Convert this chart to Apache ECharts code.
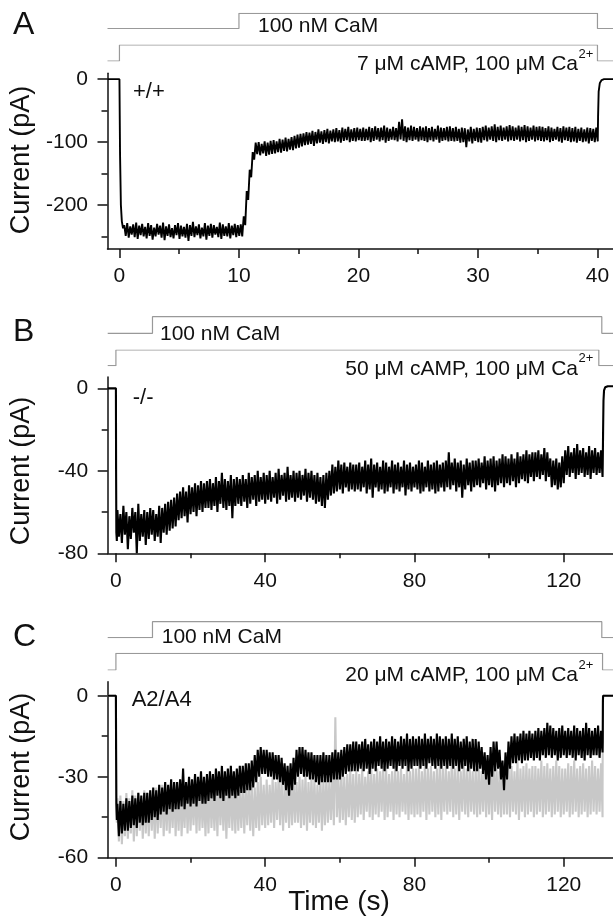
<!DOCTYPE html>
<html><head><meta charset="utf-8">
<script src="https://cdn.jsdelivr.net/npm/echarts@6/dist/echarts.min.js"></script>
<style>html,body{margin:0;padding:0;background:#fff}#c{width:613px;height:921px}</style>
</head><body><div id="c"></div>
<script>
// ---------------- DATA ----------------
// Panel A (+/+) : time (s), current (pA)
const aXTicks = [0, 10, 20, 30, 40];
const aXMinor = [5, 15, 25, 35];
const aYTicks = [-200, -100, 0];
const aYMinor = [-250, -150, -50];
const aCamOnOff = [10, 40];
const aCampOnOff = [0, 40];
const aLead = [[-1, 0], [0, 0], [0.05, -120], [0.12, -200], [0.2, -226], [0.3, -237]];
const aT0 = 0.4, aDt = 0.25;
const aHi = [-232,-229,-234,-231,-228,-233,-230,-235,-229,-232,
 -236,-230,-233,-228,-234,-231,-237,-232,-229,-233,
 -235,-230,-232,-227,-234,-231,-236,-229,-233,-230,
 -232,-235,-228,-231,-234,-229,-233,-230,-232,-231,
 -218,-178,-144,-116,-101,-100,-103,-99,-101,-98,
 -97,-99,-95,-96,-93,-95,-92,-90,-88,-87,
 -86,-84,-85,-82,-84,-80,-83,-81,-79,-82,
 -80,-78,-81,-77,-79,-76,-80,-78,-77,-79,
 -77,-79,-76,-78,-75,-78,-77,-74,-77,-79,
 -76,-78,-68,-64,-75,-77,-74,-76,-78,-75,
 -77,-75,-78,-76,-79,-74,-77,-78,-76,-75,
 -78,-76,-79,-77,-78,-80,-76,-79,-77,-78,
 -76,-74,-77,-75,-72,-76,-74,-77,-75,-73,
 -75,-77,-74,-76,-73,-75,-77,-74,-76,-75,
 -76,-78,-75,-77,-79,-76,-78,-75,-77,-76,
 -78,-76,-79,-77,-80,-77,-78,-79,-77];
const aLo = [-249,-252,-247,-251,-254,-248,-250,-253,-249,-255,
 -250,-247,-252,-256,-249,-251,-253,-248,-254,-250,
 -252,-257,-249,-251,-248,-253,-250,-255,-249,-252,
 -247,-251,-254,-249,-250,-253,-248,-251,-249,-250,
 -232,-192,-156,-128,-119,-121,-118,-122,-120,-119,
 -118,-116,-117,-114,-115,-112,-113,-110,-109,-107,
 -105,-104,-103,-106,-102,-101,-103,-100,-102,-99,
 -100,-99,-101,-98,-97,-100,-98,-99,-97,-98,
 -98,-97,-100,-98,-96,-99,-97,-101,-98,-96,
 -97,-99,-96,-98,-100,-97,-98,-96,-99,-97,
 -98,-100,-97,-99,-96,-101,-98,-97,-99,-98,
 -99,-98,-101,-100,-108,-99,-102,-98,-100,-101,
 -97,-99,-96,-98,-100,-97,-98,-96,-99,-97,
 -98,-96,-99,-97,-100,-98,-96,-99,-97,-98,
 -99,-97,-100,-98,-96,-99,-101,-97,-98,-100,
 -99,-101,-98,-100,-99,-102,-98,-100,-99];
const aTail = [[40.05, -60], [40.1, -20], [40.2, -6], [40.35, -1.5], [40.55, 0], [41.3, 0]];

// Panel B (-/-)
const bXTicks = [0, 40, 80, 120];
const bXMinor = [20, 60, 100];
const bYTicks = [-80, -40, 0];
const bYMinor = [-60, -20];
const bCamOnOff = [9.8, 130.2];
const bCampOnOff = [0, 129.4];
const bLead = [[-2.2, 0], [0, 0], [0.05, -40], [0.12, -70], [0.25, -74]];
const bT0 = 0.4, bDt = 0.8;
const bHi = [-59,-61,-57,-60,-62,-58,-60,-56,-61,-59,
 -60,-58,-59,-61,-57,-58,-56,-55,-54,-53,
 -51,-50,-48,-50,-47,-48,-46,-47,-45,-46,
 -45,-44,-46,-43,-45,-41,-44,-45,-42,-44,
 -43,-44,-42,-44,-41,-43,-42,-40,-43,-41,
 -42,-40,-43,-41,-39,-42,-41,-38,-42,-40,
 -41,-40,-42,-39,-41,-40,-42,-41,-43,-42,
 -41,-40,-37,-38,-35,-37,-36,-38,-36,-37,
 -37,-36,-38,-35,-37,-34,-37,-36,-38,-35,
 -36,-38,-35,-37,-36,-38,-35,-37,-36,-38,
 -37,-35,-36,-38,-35,-37,-36,-35,-37,-36,
 -35,-31,-36,-34,-36,-35,-37,-34,-36,-35,
 -35,-34,-36,-33,-35,-34,-33,-35,-34,-32,
 -33,-34,-32,-34,-31,-33,-32,-30,-32,-31,
 -31,-30,-32,-29,-31,-34,-35,-34,-36,-33,
 -30,-28,-31,-29,-27,-30,-29,-31,-28,-30,
 -29,-31,-30];
const bLo = [-72,-75,-71,-78,-73,-70,-80,-74,-72,-76,
 -73,-71,-74,-72,-75,-70,-71,-69,-68,-67,
 -64,-63,-62,-65,-61,-60,-62,-59,-60,-58,
 -58,-59,-57,-60,-56,-58,-59,-57,-63,-57,
 -56,-57,-55,-58,-56,-54,-57,-55,-54,-56,
 -54,-55,-53,-56,-54,-52,-55,-54,-53,-55,
 -53,-54,-52,-55,-53,-54,-56,-55,-57,-58,
 -54,-52,-51,-50,-49,-51,-48,-50,-49,-50,
 -49,-50,-48,-51,-49,-53,-48,-50,-49,-51,
 -50,-48,-51,-49,-50,-48,-52,-49,-50,-48,
 -49,-51,-50,-48,-50,-49,-51,-50,-48,-50,
 -48,-49,-47,-50,-48,-53,-49,-47,-50,-48,
 -47,-48,-46,-49,-47,-48,-50,-47,-46,-48,
 -46,-47,-45,-48,-46,-44,-45,-46,-43,-45,
 -43,-44,-42,-45,-43,-48,-47,-49,-48,-46,
 -42,-43,-41,-44,-42,-41,-43,-42,-44,-41,
 -42,-41,-43];
const bTail = [[130.45, -37], [130.55, -20], [130.65, -6], [130.8, -1], [131.1, 0.5], [131.8, 1], [133.2, 1]];

// Panel C (A2/A4): black = CaM trace, grey = control trace
const cXTicks = [0, 40, 80, 120];
const cXMinor = [20, 60, 100];
const cYTicks = [-60, -30, 0];
const cYMinor = [-45, -15];
const cCamOnOff = [9.8, 130.2];
const cCampOnOff = [0, 130.4];
const cT0 = 0.4, cDt = 0.8;
const cLead = [[-2.2, 0], [0, 0], [0.05, -20], [0.12, -40], [0.25, -46]];
const cHi = [-40,-39,-40,-38,-39,-37,-38,-36,-37,-36,
 -36,-35,-34,-35,-33,-34,-32,-33,-31,-32,
 -32,-31,-27,-32,-30,-31,-29,-30,-28,-30,
 -29,-28,-29,-27,-28,-26,-28,-27,-26,-28,
 -27,-26,-26,-25,-25,-24,-22,-20,-19,-20,
 -20,-21,-21,-22,-22,-23,-25,-26,-25,-23,
 -20,-19,-19,-20,-21,-21,-22,-22,-22,-21,
 -22,-22,-21,-20,-21,-20,-19,-18,-18,-17,
 -17,-18,-17,-16,-18,-17,-16,-17,-15,-17,
 -16,-17,-15,-16,-17,-15,-16,-14,-16,-15,
 -16,-15,-16,-14,-16,-15,-16,-14,-15,-16,
 -15,-16,-14,-16,-15,-17,-16,-15,-17,-16,
 -16,-17,-19,-21,-22,-19,-17,-17,-20,-24,
 -21,-17,-15,-14,-15,-14,-13,-14,-13,-14,
 -13,-12,-13,-12,-10,-11,-12,-13,-12,-11,
 -13,-12,-13,-11,-12,-13,-12,-10,-12,-13,
 -12,-11,-13];
const cLo = [-52,-51,-50,-50,-49,-48,-49,-47,-48,-47,
 -47,-46,-45,-46,-44,-43,-44,-42,-43,-42,
 -42,-41,-42,-40,-41,-40,-41,-39,-40,-40,
 -39,-38,-39,-37,-38,-39,-37,-38,-37,-38,
 -37,-36,-36,-35,-35,-34,-32,-30,-29,-29,
 -30,-30,-31,-31,-32,-33,-35,-37,-35,-33,
 -30,-29,-30,-30,-31,-31,-32,-33,-32,-32,
 -32,-32,-31,-31,-31,-30,-29,-28,-28,-28,
 -28,-27,-28,-27,-29,-27,-28,-26,-27,-28,
 -27,-26,-27,-28,-26,-27,-26,-28,-27,-26,
 -26,-27,-26,-27,-25,-26,-27,-26,-27,-26,
 -27,-26,-27,-26,-28,-27,-26,-28,-27,-28,
 -28,-27,-29,-31,-33,-30,-28,-27,-31,-35,
 -31,-27,-25,-25,-24,-25,-24,-24,-23,-24,
 -23,-24,-22,-23,-22,-23,-22,-24,-23,-22,
 -23,-22,-23,-24,-22,-23,-24,-22,-23,-22,
 -22,-23,-21];
const cTail = [[130.45, -17], [130.5, -2], [130.55, 0], [133.2, 0]];
const cGreyLead = [[-2.2, 0], [0, 0], [0.05, -25], [0.12, -42], [0.25, -47]];
const cGreyHi = [-38,-37,-39,-36,-38,-35,-37,-36,-38,-35,
 -36,-35,-37,-34,-36,-33,-35,-34,-36,-33,
 -35,-33,-36,-32,-34,-35,-33,-31,-34,-35,
 -34,-32,-35,-33,-31,-34,-33,-35,-32,-34,
 -33,-35,-32,-34,-31,-33,-34,-32,-30,-33,
 -31,-33,-30,-32,-29,-31,-33,-30,-32,-31,
 -32,-30,-31,-29,-32,-30,-31,-33,-30,-31,
 -30,-31,-29,-8,-30,-28,-30,-29,-27,-29,
 -28,-29,-27,-30,-28,-26,-29,-27,-28,-26,
 -27,-29,-28,-26,-28,-27,-29,-26,-28,-27,
 -27,-26,-28,-25,-27,-26,-28,-27,-25,-27,
 -26,-28,-24,-27,-26,-28,-25,-27,-26,-28,
 -27,-26,-28,-25,-27,-26,-24,-27,-28,-26,
 -27,-25,-26,-28,-24,-27,-26,-25,-27,-26,
 -26,-27,-24,-26,-25,-27,-26,-24,-26,-27,
 -27,-25,-26,-24,-27,-26,-25,-27,-26,-24,
 -26,-27,-25];
const cGreyLo = [-54,-55,-52,-53,-51,-54,-52,-50,-53,-51,
 -52,-50,-53,-51,-49,-52,-50,-51,-49,-52,
 -50,-52,-49,-51,-50,-48,-51,-50,-49,-52,
 -51,-49,-50,-52,-48,-50,-53,-49,-50,-51,
 -50,-49,-51,-48,-50,-52,-49,-50,-48,-49,
 -48,-47,-49,-46,-48,-50,-47,-49,-48,-47,
 -47,-49,-48,-50,-47,-48,-49,-47,-50,-48,
 -47,-46,-48,-45,-47,-46,-48,-45,-46,-47,
 -45,-44,-46,-43,-45,-46,-44,-45,-43,-46,
 -45,-43,-46,-44,-45,-43,-44,-46,-44,-45,
 -44,-45,-43,-46,-44,-43,-45,-44,-46,-43,
 -44,-43,-45,-44,-46,-43,-44,-45,-43,-44,
 -45,-44,-43,-45,-44,-46,-43,-44,-45,-44,
 -44,-45,-43,-44,-46,-43,-45,-44,-43,-45,
 -44,-43,-45,-44,-43,-45,-44,-43,-45,-44,
 -43,-45,-44,-43,-45,-44,-43,-45,-44,-43,
 -44,-43,-45];
const cGreyTail = [[130.4, -36], [130.5, 0], [133.2, 0]];

// Text
const panelLetters = ['A', 'B', 'C'];
const genotypes = ['+/+', '-/-', 'A2/A4'];
const camLabel = '100 nM CaM';
const campLabels = ['7 μM cAMP, 100 μM Ca', '50 μM cAMP, 100 μM Ca', '20 μM cAMP, 100 μM Ca'];
const supLabel = '2+';
const yTitle = 'Current (pA)';
const xTitle = 'Time (s)';

// ---------------- LAYOUT ----------------
const FONT = '"Liberation Sans", Arial, Helvetica, sans-serif';
const INK = '#111';
const BARC = '#999';
const panels = [
  { left: 107.5, top: 73.3, width: 506.3, height: 175.7, xMin: -1, xMax: 41.3, yMin: -270, yMax: 9.3,
    xT: aXTicks, xM: aXMinor, yT: aYTicks, yM: aYMinor, cam: aCamOnOff, camp: aCampOnOff,
    camTop: 13.3, camH: 15.2, campTop: 45, campH: 16,
    letterY: 25.3, camLX: 258, camLY: 26.3, campLY: 64.2, genoX: 133, genoY: 91.7, yTitleY: 160,
    traces: [{ lead: aLead, t0: aT0, dt: aDt, hi: aHi, lo: aLo, tail: aTail, color: '#000', w: 1.9 }] },
  { left: 107.7, top: 377, width: 505.7, height: 176.3, xMin: -2.2, xMax: 133.2, yMin: -80, yMax: 5.5,
    xT: bXTicks, xM: bXMinor, yT: bYTicks, yM: bYMinor, cam: bCamOnOff, camp: bCampOnOff,
    camTop: 316.7, camH: 16.6, campTop: 350, campH: 15.7,
    letterY: 332.5, camLX: 160, camLY: 334.5, campLY: 368.8, genoX: 132.7, genoY: 397.5, yTitleY: 471,
    traces: [{ lead: bLead, t0: bT0, dt: bDt, hi: bHi, lo: bLo, tail: bTail, color: '#000', w: 2.1 }] },
  { left: 107.7, top: 681.7, width: 505.7, height: 176, xMin: -2.2, xMax: 133.2, yMin: -60, yMax: 5.2,
    xT: cXTicks, xM: cXMinor, yT: cYTicks, yM: cYMinor, cam: cCamOnOff, camp: cCampOnOff,
    camTop: 621.7, camH: 16, campTop: 653.3, campH: 16.7,
    letterY: 636.7, camLX: 161.7, camLY: 636.8, campLY: 675, genoX: 131.7, genoY: 699.5, yTitleY: 767,
    traces: [
      { lead: cGreyLead, t0: cT0, dt: cDt, hi: cGreyHi, lo: cGreyLo, tail: cGreyTail, color: '#c8c8c8', w: 2.1 },
      { lead: cLead, t0: cT0, dt: cDt, hi: cHi, lo: cLo, tail: cTail, color: '#000', w: 2.1 }] }
];

function zig(tr) {
  const pts = tr.lead.slice();
  for (let i = 0; i < tr.hi.length; i++) {
    pts.push([tr.t0 + tr.dt * i, tr.hi[i]]);
    pts.push([tr.t0 + tr.dt * i + tr.dt / 2, tr.lo[i]]);
  }
  return pts.concat(tr.tail);
}
function steps(onOff, xMin, xMax) {
  return [[xMin, 0], [onOff[0], 0], [onOff[0], 1], [onOff[1], 1], [onOff[1], 0], [xMax, 0]];
}

const grid = [], xAxis = [], yAxis = [], series = [], graphic = [];
const lineSty = { color: INK, width: 1.5 };
panels.forEach((p, k) => {
  const gi = grid.length;
  grid.push({ left: p.left, top: p.top, width: p.width, height: p.height });
  const xi = xAxis.length;
  xAxis.push({ gridIndex: gi, type: 'value', min: p.xMin, max: p.xMax, position: 'bottom',
    axisLine: { onZero: false, lineStyle: lineSty },
    axisTick: { length: 9, lineStyle: lineSty, customValues: p.xT },
    axisLabel: { customValues: p.xT, fontSize: 21, margin: 17, color: INK, fontFamily: FONT },
    splitLine: { show: false } });
  xAxis.push({ gridIndex: gi, type: 'value', min: p.xMin, max: p.xMax, position: 'bottom',
    axisLine: { show: false, onZero: false },
    axisTick: { length: 5, lineStyle: lineSty, customValues: p.xM },
    axisLabel: { show: false }, splitLine: { show: false } });
  const yi = yAxis.length;
  yAxis.push({ gridIndex: gi, type: 'value', min: p.yMin, max: p.yMax, position: 'left',
    axisLine: { show: true, onZero: false, lineStyle: lineSty },
    axisTick: { show: true, length: 10, lineStyle: lineSty, customValues: p.yT },
    axisLabel: { customValues: p.yT, fontSize: 21, margin: 19.5, color: INK, fontFamily: FONT },
    splitLine: { show: false } });
  yAxis.push({ gridIndex: gi, type: 'value', min: p.yMin, max: p.yMax, position: 'left',
    axisLine: { show: false, onZero: false },
    axisTick: { show: true, length: 6, lineStyle: lineSty, customValues: p.yM },
    axisLabel: { show: false }, splitLine: { show: false } });
  p.traces.forEach(tr => {
    series.push({ type: 'line', xAxisIndex: xi, yAxisIndex: yi, data: zig(tr), showSymbol: false,
      symbol: 'none', silent: true, sampling: null,
      lineStyle: { color: tr.color, width: tr.w, join: 'bevel' } });
  });
  // solution bars
  [[p.cam, p.camTop, p.camH], [p.camp, p.campTop, p.campH]].forEach(b => {
    const bg = grid.length;
    grid.push({ left: p.left, top: b[1], width: p.width, height: b[2] });
    const bx = xAxis.length, by = yAxis.length;
    xAxis.push({ gridIndex: bg, type: 'value', min: p.xMin, max: p.xMax, show: false });
    yAxis.push({ gridIndex: bg, type: 'value', min: 0, max: 1, show: false });
    series.push({ type: 'line', xAxisIndex: bx, yAxisIndex: by, data: steps(b[0], p.xMin, p.xMax),
      showSymbol: false, symbol: 'none', silent: true, lineStyle: { color: BARC, width: 1.2 } });
  });
  // texts
  graphic.push({ type: 'text', x: 13, y: p.letterY, style: { text: panelLetters[k], fontSize: 32,
    fontFamily: FONT, fill: INK, align: 'left', verticalAlign: 'middle' } });
  graphic.push({ type: 'text', x: p.camLX, y: p.camLY, style: { text: camLabel, fontSize: 21,
    fontFamily: FONT, fill: INK, align: 'left', verticalAlign: 'middle' } });
  graphic.push({ type: 'text', x: 578, y: p.campLY, style: { text: campLabels[k], fontSize: 21,
    fontFamily: FONT, fill: INK, align: 'right', verticalAlign: 'middle' } });
  graphic.push({ type: 'text', x: 578.5, y: p.campLY - 10, style: { text: supLabel, fontSize: 13,
    fontFamily: FONT, fill: INK, align: 'left', verticalAlign: 'middle' } });
  graphic.push({ type: 'text', x: p.genoX, y: p.genoY, style: { text: genotypes[k], fontSize: 22,
    fontFamily: FONT, fill: INK, align: 'left', verticalAlign: 'middle' } });
  graphic.push({ type: 'text', x: 22, y: p.yTitleY, rotation: Math.PI / 2, style: { text: yTitle,
    fontSize: 27, fontFamily: FONT, fill: INK, align: 'center', verticalAlign: 'middle' } });
});
graphic.push({ type: 'text', x: 339, y: 902, style: { text: xTitle, fontSize: 28, fontFamily: FONT,
  fill: INK, align: 'center', verticalAlign: 'middle' } });

const chart = echarts.init(document.getElementById('c'), null, { renderer: 'canvas' });
chart.setOption({ animation: false, backgroundColor: '#fff', grid, xAxis, yAxis, series, graphic });
</script>
</body></html>
